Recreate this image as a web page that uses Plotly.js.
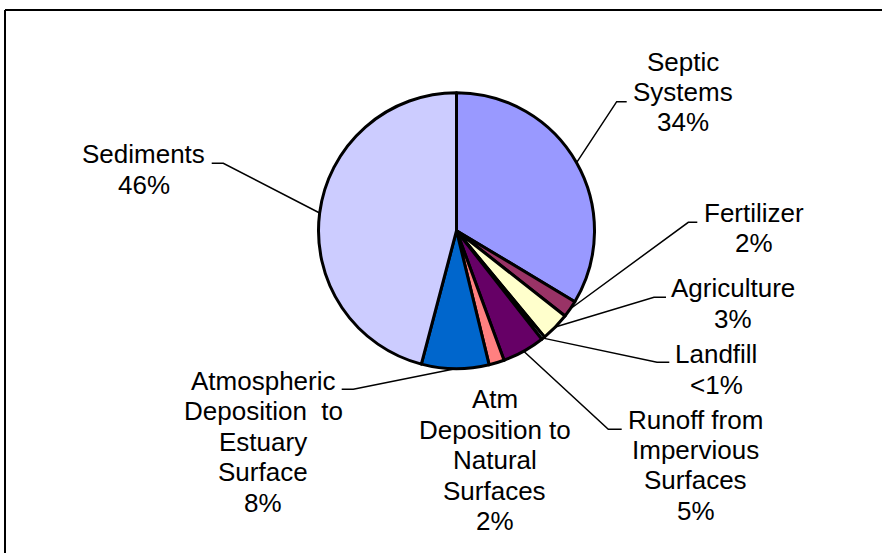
<!DOCTYPE html>
<html><head><meta charset="utf-8">
<script src="https://cdn.plot.ly/plotly-3.0.1.min.js"></script>
<style>html,body{margin:0;padding:0;background:#fff;} #chart{width:882px;height:553px;}</style>
</head><body><div id="chart"></div>
<script>
// ---- data ----
const categories = ["Septic Systems", "Fertilizer", "Agriculture", "Landfill",
  "Runoff from Impervious Surfaces", "Atm Deposition to Natural Surfaces",
  "Atmospheric Deposition to Estuary Surface", "Sediments"];
const values = [33.6, 2.0, 3.4, 0.4, 5.0, 1.8, 7.9, 45.9];
const labelLines = [
  ["Septic", "Systems", "34%"],
  ["Fertilizer", "2%"],
  ["Agriculture", "3%"],
  ["Landfill", "&lt;1%"],
  ["Runoff from", "Impervious", "Surfaces", "5%"],
  ["Atm", "Deposition to", "Natural", "Surfaces", "2%"],
  ["Atmospheric", "Deposition&nbsp; to", "Estuary", "Surface", "8%"],
  ["Sediments", "46%"]
];
const sliceColors = ["#9999FF", "#993366", "#FFFFCC", "#CCFFFF", "#660066", "#FF8080", "#0066CC", "#CCCCFF"];

// ---- layout (pixel positions) ----
const W = 882, H = 553;
const CX = 456.5, CY = 230.7, R = 138;
const LS = 30.4, FS = 26;
const labelPos = [
  {x: 682.7, y: 70.7,  elbow: [616.7, 101.7], end: [626.7, 101.7]},
  {x: 753.5, y: 221.7, elbow: [688.3, 222.3], end: [697.3, 222.3]},
  {x: 733.0, y: 297.3, elbow: [654.0, 297.3], end: [666.0, 297.3]},
  {x: 716.0, y: 363.3, elbow: [657.0, 362.3], end: [669.3, 362.3]},
  {x: 695.5, y: 428.5, elbow: [608.3, 429.3], end: [621.7, 429.3]},
  {x: 495.0, y: 408.3, elbow: null},
  {x: 263.0, y: 390.0, elbow: [353.3, 389.3], end: [341.7, 389.3]},
  {x: 143.7, y: 163.3, elbow: [223.3, 163.3], end: [211.7, 163.3]}
];
const px = v => v / W;
const py = v => 1 - v / H;

const total = values.reduce((a, b) => a + b, 0);
const annotations = [];
const shapes = [];
let cum = 0;
values.forEach((v, i) => {
  const mid = (cum + v / 2) / total * 2 * Math.PI;
  cum += v;
  const sx = CX + R * Math.sin(mid), sy = CY - R * Math.cos(mid);
  const p = labelPos[i];
  labelLines[i].forEach((t, k) => {
    annotations.push({
      xref: 'paper', yref: 'paper', x: px(p.x), y: py(p.y + k * LS - 9),
      xanchor: 'center', yanchor: 'middle', showarrow: false, text: t,
      font: {family: 'Liberation Sans, Arial, sans-serif', size: FS, color: '#000'}
    });
  });
  if (p.elbow) {
    shapes.push({
      type: 'path', xref: 'paper', yref: 'paper',
      path: `M ${px(sx)},${py(sy)} L ${px(p.elbow[0])},${py(p.elbow[1])} L ${px(p.end[0])},${py(p.end[1])}`,
      line: {color: '#000', width: 1.5}
    });
  }
});
// frame border (top and left edges visible)
shapes.push({type: 'line', xref: 'paper', yref: 'paper', x0: px(5), y0: py(10), x1: px(W + 5), y1: py(10), line: {color: '#000', width: 2}});
shapes.push({type: 'line', xref: 'paper', yref: 'paper', x0: px(5), y0: py(10), x1: px(5), y1: py(H + 5), line: {color: '#000', width: 2}});

const trace = {
  type: 'pie', labels: categories, values: values, sort: false,
  direction: 'clockwise', rotation: 0, textinfo: 'none', hoverinfo: 'skip',
  marker: {colors: sliceColors, line: {color: '#000', width: 3}},
  domain: {x: [px(CX - R), px(CX + R)], y: [py(CY + R), py(CY - R)]},
  showlegend: false
};
Plotly.newPlot('chart', [trace], {
  width: W, height: H, margin: {l: 0, r: 0, t: 0, b: 0},
  paper_bgcolor: '#fff', plot_bgcolor: '#fff', showlegend: false,
  annotations: annotations, shapes: shapes
}, {displayModeBar: false, staticPlot: true});
</script>
</body></html>
